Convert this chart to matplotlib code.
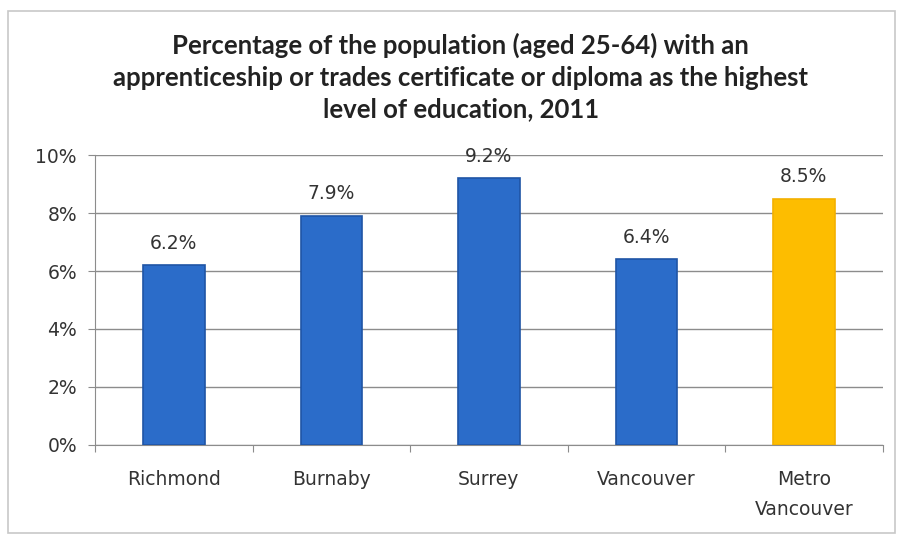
import matplotlib.pyplot as plt
from matplotlib.patches import Rectangle
import numpy as np

# Datos
ciudades = ['Richmond', 'Burnaby', 'Surrey', 'Vancouver', 'Metro\nVancouver']
porcentajes = [6.2, 7.9, 9.2, 6.4, 8.5]
colores = ['#2b6cc9', '#2b6cc9', '#2b6cc9', '#2b6cc9', '#fdbd00']
bordes = ['#1f55a6', '#1f55a6', '#1f55a6', '#1f55a6', '#f3b000']
ticks_y = [0, 2, 4, 6, 8, 10]

titulo = ('Percentage of the population (aged 25-64) with an\n'
          'apprenticeship or trades certificate or diploma as the highest\n'
          'level of education, 2011')

fig = plt.figure(figsize=(9, 5.36), dpi=100)
ax = fig.add_axes([0.1056, 0.1698, 0.8750, 0.5410])

# Marco del grafico
fig.patches.append(Rectangle((0.009, 0.005), 0.985, 0.975, transform=fig.transFigure,
                             fill=False, edgecolor='#c8c8c8', linewidth=1.2))

x = np.arange(len(ciudades))
ax.bar(x, porcentajes, width=0.39, color=colores, edgecolor=bordes, linewidth=1.2, zorder=3)

# Etiquetas de datos
for xi, v in zip(x, porcentajes):
    ax.annotate(f'{v}%', (xi, v), xytext=(0, 9), textcoords='offset points',
                ha='center', va='bottom', fontsize=13.5, color='#333333', family='DejaVu Sans')

ax.set_xlim(-0.5, len(ciudades) - 0.5)
ax.set_ylim(0, 10)
ax.set_yticks(ticks_y)
ax.set_yticklabels([f'{t}%' for t in ticks_y], fontsize=13.5, color='#333333')
ax.yaxis.grid(True, color='#8c8c8c', linewidth=1.0, zorder=0)
ax.tick_params(axis='y', length=5, color='#8c8c8c', pad=8)

# Ticks del eje x entre categorias
ax.set_xticks(np.arange(-0.5, len(ciudades), 1.0))
ax.set_xticklabels([])
ax.set_xticks(x, minor=True)
ax.set_xticklabels(ciudades, minor=True, fontsize=13.5, color='#333333', linespacing=1.75)
ax.tick_params(axis='x', which='major', length=5, color='#8c8c8c', direction='out')
ax.tick_params(axis='x', which='minor', length=0, pad=18)

for lado in ['top', 'right']:
    ax.spines[lado].set_visible(False)
ax.spines['left'].set_color('#8c8c8c')
ax.spines['bottom'].set_color('#8c8c8c')

fig.text(0.512, 0.856, titulo, ha='center', va='center', fontsize=18.5, fontweight='bold',
         family='Lato', color='#222222', linespacing=1.38)

plt.savefig('out.png', dpi=100)
